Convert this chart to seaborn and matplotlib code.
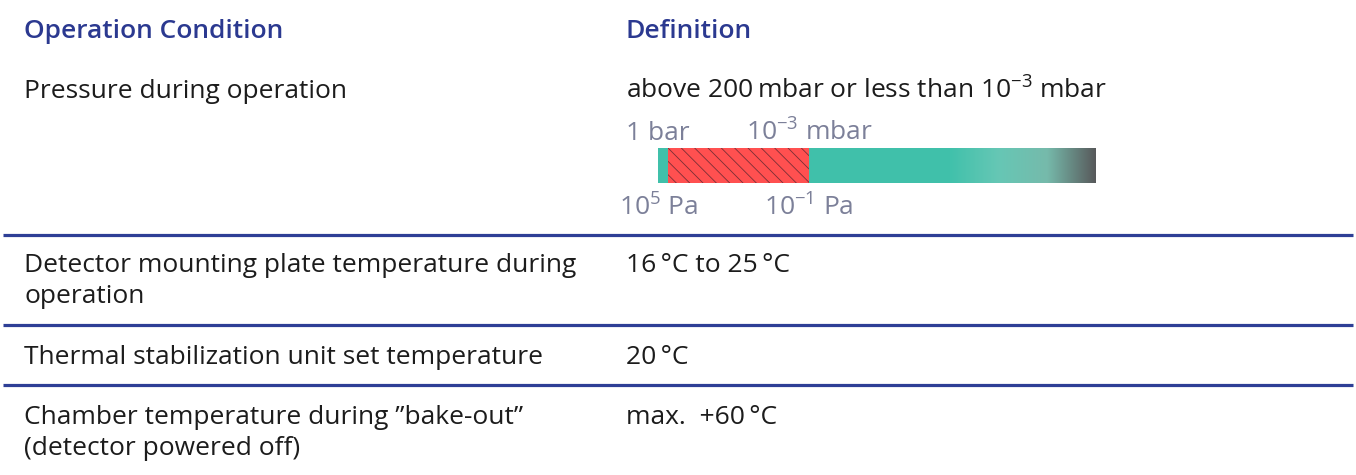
import numpy as np
import seaborn as sns
import matplotlib.pyplot as plt
from matplotlib.colors import LinearSegmentedColormap
from matplotlib.transforms import blended_transform_factory

# render at dpi 80 (hatch spacing follows dpi); sizes scaled by k
DPI = 80
k = 100 / DPI

sns.set_theme(style="white")
plt.rcParams['font.family'] = ['Open Sans', 'DejaVu Sans']
plt.rcParams['mathtext.fontset'] = 'custom'
plt.rcParams['mathtext.rm'] = 'Open Sans'
plt.rcParams['hatch.linewidth'] = 0.6 * k

# table content
headers = ['Operation Condition', 'Definition']
conditions = ['Pressure during operation',
              'Detector mounting plate temperature during\noperation',
              'Thermal stabilization unit set temperature',
              'Chamber temperature during \u201dbake-out\u201d\n(detector powered off)']
definitions = ['above 200\u2009mbar or less than $\\mathregular{10^{\u22123}}$ mbar',
               '16\u2009\u00b0C to 25\u2009\u00b0C',
               '20\u2009\u00b0C',
               'max.  +60\u2009\u00b0C']

# pressure bar, in log10(Pa)
bar_start = 5.0        # 1 bar
red_start = 4.6
red_end = -1.0         # 1e-3 mbar
fade_start = -6.6
bar_end = -12.4
top_labels = ['1 bar', '$\\mathregular{10^{-3}}$ mbar']
bottom_labels = ['$\\mathregular{10^{5}}$ Pa', '$\\mathregular{10^{-1}}$ Pa']
label_pos = [bar_start, red_end]

W, H = 1356, 475
fig = plt.figure(figsize=(W / DPI, H / DPI), dpi=DPI)
ax = fig.add_axes([0, 0, 1, 1])
ax.set_xlim(0, W)
ax.set_ylim(H, 0)
ax.axis('off')

blue = '#2B3990'
txt = '#1c1c1c'
fs = 19 * k

ax.text(24, 32, headers[0], color=blue, fontsize=fs, fontweight='semibold', va='center')
ax.text(626, 32, headers[1], color=blue, fontsize=fs, fontweight='semibold', va='center')

row_y = [91, 281, 357, 433]
for y, c, d in zip(row_y, conditions, definitions):
    ax.text(24, y, c, color=txt, fontsize=fs, va='center', linespacing=1.35)
    dy = y - 16 if '\n' in c else y
    ax.text(626, dy, d, color=txt, fontsize=fs, va='center')

for y in [235, 325, 385]:
    ax.plot([3, 1353], [y, y], color='#2E3F96', lw=2.3 * k, solid_capstyle='butt')

# pressure scale bar
bx = fig.add_axes([658 / W, (H - 183) / H, (1096 - 658) / W, 35 / H])
sns.barplot(x=[bar_end - bar_start], y=['p'], ax=bx, orient='h', color='#40C0AA',
            width=1, saturation=1)
for p in bx.patches:
    p.set_x(bar_start)
    p.set_linewidth(0)
bx.barh(0, red_end - red_start, left=red_start, height=1, color='#FF5050',
        hatch='\\\\', edgecolor='#7a2e35', linewidth=0)
cmap = LinearSegmentedColormap.from_list(
    'fade', ['#41C1AB', '#66C7B5', '#76BAAB', '#58595B'], N=256)
grad = np.linspace(0, 1, 256).reshape(1, -1)
bx.imshow(grad, cmap=cmap, aspect='auto', extent=[fade_start, bar_end, 0.5, -0.5],
          zorder=3)
bx.set_xlim(bar_start, bar_end)
bx.set_ylim(0.5, -0.5)
bx.axis('off')

tr = blended_transform_factory(bx.transData, ax.transData)
gray = '#7C8099'
for xp, t in zip(label_pos, top_labels):
    ax.text(xp, 133, t, transform=tr, color=gray, fontsize=fs, ha='center', va='center')
for xp, t in zip(label_pos, bottom_labels):
    ax.text(xp, 208, t, transform=tr, color=gray, fontsize=fs, ha='center', va='center')

fig.savefig('out.png', dpi=DPI)
